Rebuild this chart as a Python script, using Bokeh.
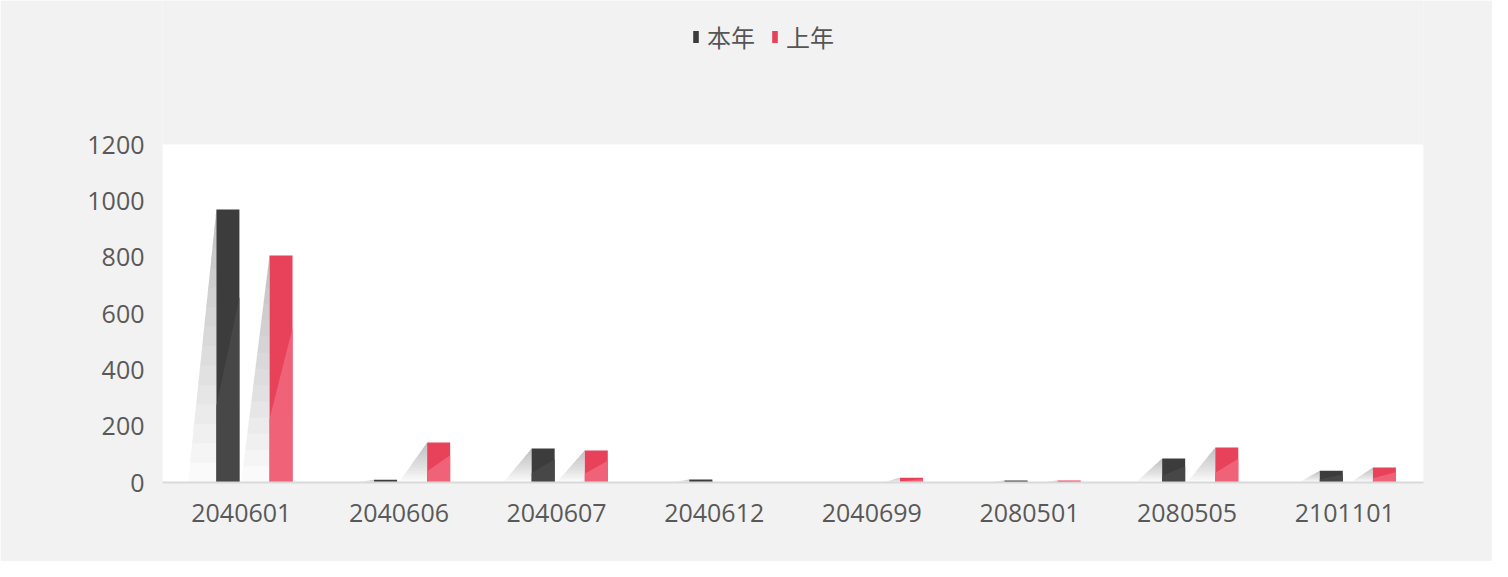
import numpy as np
from bokeh.plotting import figure
from bokeh.models import Range1d, FixedTicker, Legend, LegendItem
from bokeh.embed import file_html
from bokeh.resources import INLINE

categories = ["2040601", "2040606", "2040607", "2040612", "2040699", "2080501", "2080505", "2101101"]
this_year = [969, 10, 121, 11, 0, 7, 85, 42]
last_year = [806, 142, 114, 0, 17, 7, 124, 53]
y_ticks = [0, 200, 400, 600, 800, 1000, 1200]
y_max = 1200

BLACK = "#3c3c3c"
BLACK_LIGHT = "#474747"
RED = "#e8425a"
RED_LIGHT = "#ef6277"
FONT = "Open Sans"
CJK = "Noto Sans CJK SC"

# plot area (white) occupies the lower 338 px of a 482 px frame; the space above holds the legend
frame_h, area_h = 482, 338
y_top = y_max * frame_h / area_h

p = figure(width=1492, height=561, x_range=Range1d(0, len(categories)), y_range=Range1d(0, y_top),
           output_backend="svg", toolbar_location=None,
           min_border_left=162, min_border_right=69, min_border_top=0, min_border_bottom=79)
p.background_fill_color = "#f2f2f2"
p.border_fill_color = "#f2f2f2"
p.outline_line_color = None
p.xgrid.visible = False
p.ygrid.visible = False

# white plotting area
p.quad(left=0, right=len(categories), bottom=0, top=y_max, fill_color="#ffffff", line_color=None)

bw = 0.146
offsets = {"this": -0.085, "last": 0.252}

def draw_series(vals, off, dark, light):
    centers = np.arange(len(vals)) + 0.5 + off
    # shadows (layered for a gradient)
    n_layers = 14
    for k in range(n_layers):
        f = k / n_layers
        xs, ys = [], []
        for c, v in zip(centers, vals):
            if v <= 0:
                continue
            left = c - bw / 2
            w = 0.1 + 0.08 * min(1.0, v / 100.0)
            xs.append([left - w * (1 - f), left, left])
            ys.append([f * v, f * v, v])
        p.patches(xs, ys, fill_color="#6a6a6a", fill_alpha=0.035, line_color=None)
    r = p.vbar(x=centers, width=bw, top=vals, bottom=0, fill_color=dark, line_color=None)
    lx, ly = [], []
    for c, v in zip(centers, vals):
        if v <= 0:
            continue
        left, right = c - bw / 2, c + bw / 2
        lx.append([left, right, right, left])
        ly.append([0, 0, 0.68 * v, 0.28 * v])
    p.patches(lx, ly, fill_color=light, line_color=None)
    return r

r_this = draw_series(this_year, offsets["this"], BLACK, BLACK_LIGHT)
r_last = draw_series(last_year, offsets["last"], RED, RED_LIGHT)

# x axis
p.xaxis.ticker = FixedTicker(ticks=[i + 0.5 for i in range(len(categories))])
p.xaxis.major_label_overrides = {i + 0.5: c for i, c in enumerate(categories)}
p.xaxis.major_tick_line_color = None
p.xaxis.minor_tick_line_color = None
p.xaxis.axis_line_color = "#d9d9d9"
p.xaxis.axis_line_width = 2
p.xaxis.major_label_text_font = FONT
p.xaxis.major_label_text_font_size = "25px"
p.xaxis.major_label_text_color = "#595959"
p.xaxis.major_label_standoff = 15

# y axis
p.yaxis.ticker = FixedTicker(ticks=y_ticks)
p.yaxis.axis_line_color = None
p.yaxis.major_tick_line_color = None
p.yaxis.minor_tick_line_color = None
p.yaxis.major_label_text_font = FONT
p.yaxis.major_label_text_font_size = "25px"
p.yaxis.major_label_text_color = "#595959"
p.yaxis.major_label_standoff = 12

legend = Legend(items=[LegendItem(label="本年", renderers=[r_this]),
                       LegendItem(label="上年", renderers=[r_last])],
                orientation="horizontal", location=(530, 428),
                glyph_width=7, glyph_height=15, label_standoff=8, spacing=16,
                padding=0, margin=0, border_line_color=None, background_fill_alpha=0,
                label_text_font=CJK, label_text_font_size="24px", label_text_color="#555555")
p.add_layout(legend, "center")

open("out.html", "w").write(file_html(p, INLINE))
